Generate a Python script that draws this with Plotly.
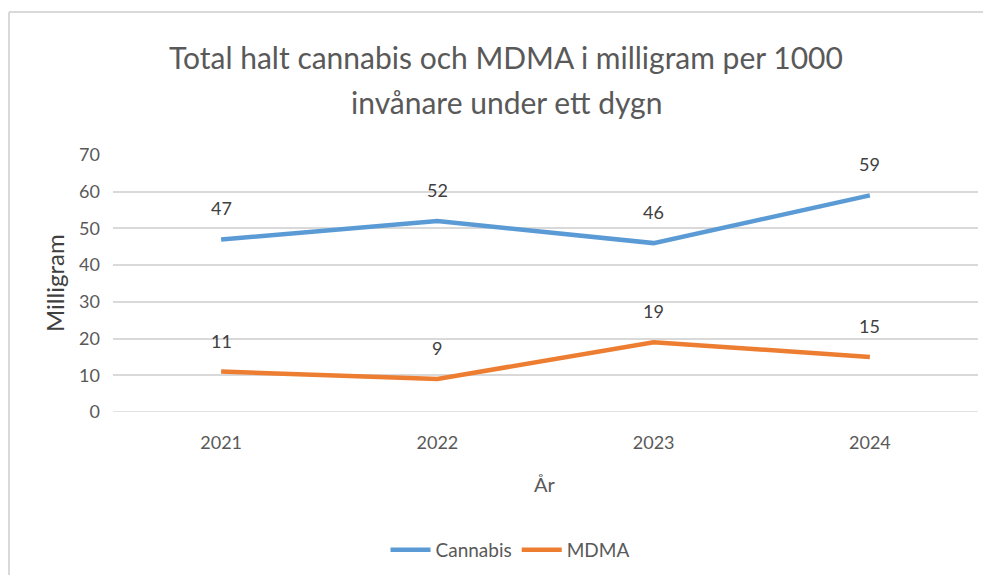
import plotly.graph_objects as go

years = ["2021", "2022", "2023", "2024"]
cannabis = [47, 52, 46, 59]
mdma = [11, 9, 19, 15]
y_ticks = [0, 10, 20, 30, 40, 50, 60, 70]

title_line1 = "Total halt cannabis och MDMA i milligram per 1000"
title_line2 = "invånare under ett dygn"
FONT = "Lato, 'Open Sans', sans-serif"
GREY = "#595959"

# page body has an 8px margin: figure placed at (8,8); keep it inside the window
L, T, R, B = 105, 147, 5, 163
W, H = 975, 567
PW, PH = W - L - R, H - T - B


def px(xpix):
    return (xpix - 8 - L) / PW


def py(ypix):
    return (H - B - (ypix - 8)) / PH


fig = go.Figure()
fig.add_trace(go.Scatter(x=years, y=cannabis, name="Cannabis", mode="lines",
                         line=dict(color="#5B9BD5", width=4.5)))
fig.add_trace(go.Scatter(x=years, y=mdma, name="MDMA", mode="lines",
                         line=dict(color="#ED7D31", width=4.5)))

for series in (cannabis, mdma):
    for i, v in enumerate(series):
        fig.add_annotation(x=i, y=v, xref="x", yref="y", text=str(v), showarrow=False,
                           yshift=31, font=dict(size=18, color="#404040", family=FONT))

fig.add_annotation(x=px(506), y=py(57), xref="paper", yref="paper", text=title_line1,
                   showarrow=False, xanchor="center", yanchor="middle",
                   font=dict(size=30, color=GREY, family=FONT))
fig.add_annotation(x=px(506), y=py(102), xref="paper", yref="paper", text=title_line2,
                   showarrow=False, xanchor="center", yanchor="middle",
                   font=dict(size=30, color=GREY, family=FONT))
fig.add_annotation(x=px(545), y=py(484), xref="paper", yref="paper", text="År",
                   showarrow=False, xanchor="center", yanchor="middle",
                   font=dict(size=20, color=GREY, family=FONT))
fig.add_annotation(x=px(54), y=py(283), xref="paper", yref="paper", text="Milligram",
                   showarrow=False, xanchor="center", yanchor="middle", textangle=-90,
                   font=dict(size=24, color="#404040", family=FONT))

fig.update_layout(
    width=W, height=H,
    margin=dict(l=L, r=R, t=T, b=B, autoexpand=False),
    paper_bgcolor="white", plot_bgcolor="white",
    font=dict(family=FONT, color=GREY),
    xaxis=dict(type="category", range=[-0.5, 3.5], showgrid=False, zeroline=False,
               showline=False, ticks="", tickfont=dict(size=18, color=GREY),
               ticklabelstandoff=18),
    yaxis=dict(range=[0, 70], tickvals=y_ticks, showgrid=True, gridcolor="#d9d9d9",
               gridwidth=1.5, zeroline=False, showline=False, ticks="",
               tickfont=dict(size=18, color=GREY), ticklabelstandoff=12),
    legend=dict(orientation="h", x=px(510), xanchor="center", y=py(550), yanchor="middle",
                font=dict(size=19, color=GREY), itemwidth=40),
    showlegend=True,
)
fig.add_shape(type="line", xref="paper", yref="y", x0=0, x1=1, y0=0, y1=0,
              line=dict(color="#d9d9d9", width=1.5), layer="below")
# chart-area border (left and top visible)
fig.add_shape(type="line", xref="paper", yref="paper", x0=px(9), x1=px(991), y0=py(12), y1=py(12),
              line=dict(color="#d9d9d9", width=2))
fig.add_shape(type="line", xref="paper", yref="paper", x0=px(9), x1=px(9), y0=py(12), y1=py(583),
              line=dict(color="#d9d9d9", width=2))

fig.write_html("out.html", config={"displayModeBar": False})
